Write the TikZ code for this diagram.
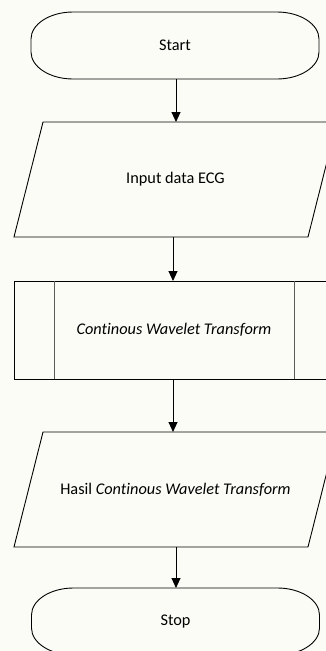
\documentclass[tikz,border=0pt]{standalone}
\usepackage{fontspec}
\setmainfont{Carlito}[Ligatures=CommonOff]
\usetikzlibrary{arrows.meta,calc}
\definecolor{bgcream}{RGB}{252,252,247}
\definecolor{linegray}{RGB}{90,90,90}
\newcommand\termpath[1]{%
  \draw[shapeline] ($(#1.north west)+(42,0)$) -- ($(#1.north east)+(-42,0)$)
    .. controls ($(#1.north east)+(-19,0)$) and ($(#1.east)+(0,-21.5)$) .. ($(#1.east)+(0,-6.5)$)
    -- ($(#1.east)+(0,6.5)$)
    .. controls ($(#1.east)+(0,21.5)$) and ($(#1.south east)+(-19,0)$) .. ($(#1.south east)+(-42,0)$)
    -- ($(#1.south west)+(42,0)$)
    .. controls ($(#1.south west)+(19,0)$) and ($(#1.west)+(0,21.5)$) .. ($(#1.west)+(0,6.5)$)
    -- ($(#1.west)+(0,-6.5)$)
    .. controls ($(#1.west)+(0,-21.5)$) and ($(#1.north west)+(19,0)$) .. cycle;}
\newcommand\iopath[1]{%
  \draw[shapeline] (#1.south west) -- ($(#1.south east)+(-29,0)$)
    -- (#1.north east) -- ($(#1.north west)+(29,0)$) -- cycle;}
\begin{document}
\begin{tikzpicture}[x=1pt,y=-1pt,
  shapeline/.style={draw=black,line width=0.9pt},
  box/.style={inner sep=0pt,outer sep=0pt,font=\fontsize{16.3}{19}\selectfont,align=center},
  termbox/.style={box,minimum width=288pt,minimum height=67pt},
  iobox/.style={box,minimum width=323pt,minimum height=115pt},
  procbox/.style={box,draw=black,line width=0.9pt,minimum width=320pt,minimum height=98pt},
  arr/.style={draw=black,line width=0.9pt,-{Triangle[width=9pt,length=10pt]}}]
\fill[bgcream] (0,0) rectangle (326,651);
\useasboundingbox (0,0) rectangle (326,651);

\node[termbox] (start) at (175,45.5) {Start};
\node[iobox] (input) at (175.5,179.5) {Input data ECG};
\node[procbox] (proc) at (174,330) {\itshape Continous Wavelet Transform};
\node[iobox] (output) at (175.5,489.5) {Hasil \textit{Continous Wavelet Transform}};
\node[termbox] (stop) at (175.5,621.5) {Stop};

\termpath{start}
\iopath{input}
\draw[linegray,line width=0.9pt] ($(proc.north west)+(40,0)$) -- ($(proc.south west)+(40,0)$);
\draw[linegray,line width=0.9pt] ($(proc.north east)+(-40,0)$) -- ($(proc.south east)+(-40,0)$);
\iopath{output}
\termpath{stop}

\draw[arr] ([xshift=1pt]start.south) -- ([xshift=0.5pt]input.north);
\draw[arr] ([xshift=-2.5pt]input.south) -- ([xshift=-1pt]proc.north);
\draw[arr] ([xshift=-1pt]proc.south) -- ([xshift=-2.5pt]output.north);
\draw[arr] ([xshift=0.5pt]output.south) -- ([xshift=0.5pt]stop.north);
\end{tikzpicture}
\end{document}
